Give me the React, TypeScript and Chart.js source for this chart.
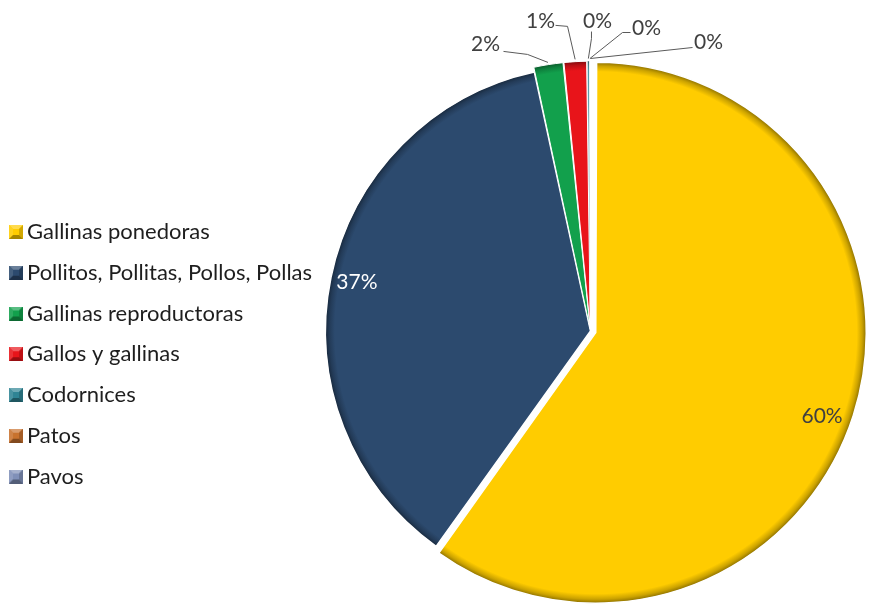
import { useEffect, useRef } from 'react';
import { Chart, registerables } from 'chart.js';

Chart.register(...registerables);

// ---- data ----
const categories = [
  'Gallinas ponedoras',
  'Pollitos, Pollitas, Pollos, Pollas',
  'Gallinas reproductoras',
  'Gallos y gallinas',
  'Codornices',
  'Patos',
  'Pavos',
];
const shares = [59.9, 36.7, 1.8, 1.4, 0.15, 0.03, 0.02];
const sliceColors = ['#FFCC00', '#2C4A6E', '#12A04C', '#E8141A', '#2F8494', '#C8722E', '#8090B8'];

// ---- styling / layout ----
const RADIUS = 265;
const FONT = 'Lato';
const sliceOffsets = [22, 0, 10, 10, 10, 10, 10];
const sliceBorders = [1.5, 1.5, 1, 1, 0.5, 0.5, 0.5];

const labelPlacement: any[] = [
  { inside: true, k: 0.871, da: 2.4, color: '#404040' },
  { inside: true, k: 0.9, da: 0, color: '#ffffff' },
  { tx: -62.5, ty: -18, sx: -44.5, sy: -11, kx: -20.5, ky: -8 },
  { tx: -34.6, ty: -38, sx: -19.6, sy: -34, kx: -7.6, ky: -33 },
  { tx: 9.1, ty: -37, sx: 3.1, sy: -27, kx: 3.1, ky: -20 },
  { tx: 56.6, ty: -30, sx: 40.6, sy: -26, kx: 32.6, ky: -26 },
  { tx: 118.2, ty: -16, sx: 102.2, sy: -11, kx: 102.2, ky: -11 },
];

function shade(hex: string, f: number) {
  const n = parseInt(hex.slice(1), 16);
  let r = (n >> 16) & 255, g = (n >> 8) & 255, b = n & 255;
  if (f < 1) {
    r *= f; g *= f; b *= f;
  } else {
    const t = f - 1;
    r += (255 - r) * t; g += (255 - g) * t; b += (255 - b) * t;
  }
  return `rgb(${Math.round(r)},${Math.round(g)},${Math.round(b)})`;
}

function makeIcon(color: string, size = 14) {
  const c = document.createElement('canvas');
  c.width = size;
  c.height = size;
  const g = c.getContext('2d')!;
  const e = 4;
  g.fillStyle = color;
  g.fillRect(0, 0, size, size);
  const poly = (pts: number[][], fill: string) => {
    g.beginPath();
    g.moveTo(pts[0][0], pts[0][1]);
    for (let i = 1; i < pts.length; i++) g.lineTo(pts[i][0], pts[i][1]);
    g.closePath();
    g.fillStyle = fill;
    g.fill();
  };
  poly([[0, 0], [size, 0], [size - e, e], [e, e]], shade(color, 1.3));
  poly([[0, 0], [e, e], [e, size - e], [0, size]], shade(color, 1.12));
  poly([[size, 0], [size, size], [size - e, size - e], [size - e, e]], shade(color, 0.82));
  poly([[0, size], [e, size - e], [size - e, size - e], [size, size]], shade(color, 0.65));
  return c;
}

const sliceLabels = {
  id: 'sliceLabels',
  afterDatasetsDraw(chart: any, _args: any, opts: any) {
    const meta = chart.getDatasetMeta(0);
    const data = chart.data.datasets[0].data as number[];
    const total = data.reduce((a, b) => a + b, 0);
    const ctx = chart.ctx as CanvasRenderingContext2D;
    ctx.save();
    ctx.font = `${opts.size}px ${opts.family}`;
    ctx.textAlign = 'center';
    ctx.textBaseline = 'middle';
    meta.data.forEach((el: any, i: number) => {
      const place = opts.placements[i];
      if (!place) return;
      const text = Math.round((data[i] / total) * 100) + '%';
      const mid = (el.startAngle + el.endAngle) / 2;
      const o = (el.options.offset || 0) / 4;
      const fix = 1 - Math.sin(Math.min(Math.PI, el.circumference));
      const shift = o + o * fix;
      const rad = el.outerRadius + o * fix;
      const cx = el.x + Math.cos(mid) * shift;
      const cy = el.y + Math.sin(mid) * shift;
      if (place.inside) {
        const a = mid + ((place.da || 0) * Math.PI) / 180;
        ctx.fillStyle = place.color;
        ctx.fillText(text, cx + Math.cos(a) * rad * place.k, cy + Math.sin(a) * rad * place.k);
      } else {
        const ax = cx + Math.cos(mid) * rad;
        const ay = cy + Math.sin(mid) * rad;
        ctx.strokeStyle = opts.lineColor;
        ctx.lineWidth = 1;
        ctx.beginPath();
        ctx.moveTo(ax + place.sx, ay + place.sy);
        ctx.lineTo(ax + place.kx, ay + place.ky);
        ctx.lineTo(ax, ay);
        ctx.stroke();
        ctx.fillStyle = opts.color;
        ctx.fillText(text, ax + place.tx, ay + place.ty);
      }
    });
    ctx.restore();
  },
};

export default function App() {
  const canvasRef = useRef<HTMLCanvasElement | null>(null);

  useEffect(() => {
    if (!canvasRef.current) return;
    const icons = sliceColors.map((c) => makeIcon(c));
    const baseGen = (Chart as any).overrides.doughnut.plugins.legend.labels.generateLabels;

    const chart = new Chart(canvasRef.current, {
      type: 'pie',
      data: {
        labels: categories,
        datasets: [
          {
            data: shares,
            radius: RADIUS,
            clip: false,
            offset: sliceOffsets,
            hoverOffset: 0,
            borderColor: '#ffffff',
            borderWidth: sliceBorders,
            backgroundColor: (c: any) => {
              const i = c.dataIndex;
              const base = sliceColors[i];
              const area = c.chart.chartArea;
              if (!area || i === undefined) return base;
              const x = (area.left + area.right) / 2;
              const y = (area.top + area.bottom) / 2;
              const r = RADIUS + sliceOffsets[i] / 4;
              const g = c.chart.ctx.createRadialGradient(x, y, 0, x, y, r);
              g.addColorStop(0, base);
              g.addColorStop(0.965, base);
              g.addColorStop(0.985, shade(base, 0.8));
              g.addColorStop(1, shade(base, 0.55));
              return g;
            },
          } as any,
        ],
      },
      options: {
        animation: false,
        responsive: true,
        maintainAspectRatio: false,
        events: [],
        layout: { padding: { top: 49, bottom: 0, left: 0, right: 15 } },
        plugins: {
          tooltip: { enabled: false },
          legend: {
            position: 'left',
            align: 'center',
            title: { display: true, text: '', font: { size: 10, lineHeight: 1 }, padding: { top: 39.25, bottom: 0 } },
            labels: {
              usePointStyle: true,
              pointStyleWidth: 0.01,
              padding: 16,
              color: '#1e1e1e',
              font: { family: FONT, size: 22, lineHeight: 24.75 / 22 },
              generateLabels: (ch: any) =>
                baseGen(ch).map((it: any, i: number) => ({ ...it, text: [it.text], pointStyle: icons[i] })),
            },
          },
          sliceLabels: {
            size: 21,
            family: FONT,
            color: '#404040',
            lineColor: '#5a5a5a',
            placements: labelPlacement,
          },
        } as any,
      },
      plugins: [sliceLabels],
    });
    return () => chart.destroy();
  }, []);

  return (
    <div style={{ position: 'fixed', left: 0, top: 0, width: 874, height: 613, background: '#fff' }}>
      <canvas ref={canvasRef} />
    </div>
  );
}
